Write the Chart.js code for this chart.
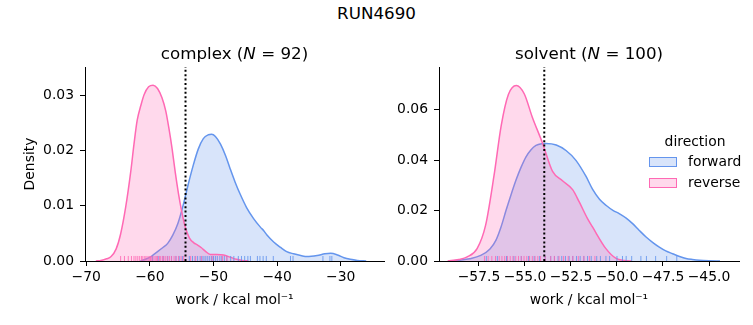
<!DOCTYPE html>
<html>
<head>
<meta charset="utf-8">
<script src="https://cdn.jsdelivr.net/npm/chart.js@4.4.1/dist/chart.umd.min.js"></script>
<style>
  body { margin: 0; background: #fff; font-family: "DejaVu Sans", sans-serif; color: #000; }
  #page { position: relative; width: 753px; height: 325px; overflow: hidden; }
  canvas { position: absolute; top: 0; }
  #suptitle { position: absolute; left: 0; top: 3px; width: 753px; text-align: center; font-size: 16.7px; line-height: 20px; }
  .lg { position: absolute; font-size: 13.9px; line-height: 17px; white-space: nowrap; }
  .patch { position: absolute; width: 28px; height: 10px; box-sizing: border-box; border: 1.5px solid; }
</style>
</head>
<body>
<div id="page">
  <div id="suptitle">RUN4690</div>
  <canvas id="complexChart" width="390" height="325" style="left:0;width:390px;height:325px"></canvas>
  <canvas id="solventChart" width="363" height="325" style="left:390px;width:363px;height:325px"></canvas>
  <div class="lg" style="left:645px;top:133px;width:100px;text-align:center">direction</div>
  <div class="patch" style="left:649px;top:157px;background:rgba(100,149,237,0.25);border-color:#6495ED"></div>
  <div class="lg" style="left:688px;top:153px">forward</div>
  <div class="patch" style="left:649px;top:178px;background:rgba(255,105,180,0.25);border-color:#FF69B4"></div>
  <div class="lg" style="left:688px;top:174px">reverse</div>
</div>
<script>
// complex: density curves
const complexForwardX = [-61.5, -60.5, -59.7, -58.9, -58.0, -57.2, -56.4, -55.6, -54.8, -54.0, -53.2, -52.4, -51.6, -50.8, -50.3, -49.7, -48.9, -48.1, -47.4, -46.6, -45.8, -44.8, -43.7, -42.6, -42.1, -41.6, -40.5, -39.5, -38.5, -37.4, -36.0, -35.3, -33.7, -32.5, -31.6, -30.5, -29.5, -28.5, -27.4, -26.0];
const complexForwardY = [0, 0.0004, 0.0009, 0.0016, 0.0024, 0.0032, 0.0047, 0.0068, 0.0100, 0.0138, 0.0173, 0.0203, 0.0222, 0.0229, 0.0230, 0.0226, 0.0212, 0.0191, 0.0168, 0.0143, 0.0121, 0.0097, 0.0077, 0.0061, 0.0055, 0.0047, 0.0034, 0.0025, 0.0017, 0.0013, 0.0009, 0.0008, 0.0010, 0.0013, 0.0014, 0.0011, 0.0006, 0.0003, 0.0001, 0];
const complexReverseX = [-68.5, -67.7, -66.8, -66.1, -65.3, -64.6, -63.8, -63.0, -62.5, -62.0, -61.4, -60.9, -60.2, -59.5, -58.8, -58.1, -57.5, -57.0, -56.5, -56.0, -55.5, -55.0, -54.5, -53.8, -53.1, -52.5, -51.9, -51.3, -50.5, -49.5, -48.4, -47.4, -46.4, -45.5, -44.5];
const complexReverseY = [0, 0.0001, 0.0004, 0.0008, 0.0022, 0.0049, 0.0098, 0.0163, 0.0212, 0.0255, 0.0283, 0.0302, 0.0316, 0.0319, 0.0313, 0.0296, 0.0272, 0.0240, 0.0203, 0.0160, 0.0122, 0.0090, 0.0064, 0.0042, 0.0033, 0.0029, 0.0024, 0.0018, 0.0012, 0.0012, 0.0011, 0.0007, 0.0003, 0.0001, 0];
const complexForwardRug = [-59.6, -58.7, -57.9, -57.2, -56.6, -55.9, -55.4, -54.9, -53.8, -53.3, -52.9, -52.5, -52.1, -51.8, -51.5, -51.2, -50.9, -50.6, -50.3, -50.0, -49.7, -49.4, -49.0, -48.7, -48.3, -47.9, -47.3, -46.8, -46.1, -45.6, -45.1, -44.6, -44.2, -43.1, -42.7, -42.2, -41.7, -40.6, -37.9, -37.5, -32.8, -31.7, -31.4];
const complexReverseRug = [-64.6, -64.0, -63.4, -62.9, -62.5, -62.2, -61.9, -61.6, -61.3, -61.1, -60.8, -60.6, -60.3, -60.1, -59.9, -59.7, -59.5, -59.2, -59.0, -58.8, -58.5, -58.3, -58.0, -57.8, -57.5, -57.2, -56.9, -56.6, -56.2, -55.9, -55.5, -55.1, -54.7, -53.6, -52.8, -51.9, -50.2, -48.6, -47.9];
const complexMarker = -54.4;
const complexXTicks = [-70, -60, -50, -40, -30];
const complexYTicks = [0, 0.01, 0.02, 0.03];

// solvent
const solventForwardX = [-59.0, -58.6, -58.0, -57.4, -56.9, -56.58, -56.3, -56.03, -55.76, -55.49, -55.22, -54.95, -54.68, -54.4, -54.1, -53.86, -53.3, -52.77, -52.23, -51.68, -51.33, -50.95, -50.6, -50.2, -49.88, -49.5, -49.15, -48.8, -48.42, -48.05, -47.7, -47.35, -46.98, -46.6, -46.25, -45.9, -45.53, -45.0, -44.4];
const solventForwardY = [0, 0.0003, 0.0009, 0.0022, 0.0048, 0.0082, 0.0135, 0.0200, 0.0262, 0.0320, 0.0370, 0.0412, 0.0440, 0.0458, 0.0465, 0.0466, 0.0460, 0.0438, 0.0399, 0.0335, 0.0285, 0.0245, 0.0221, 0.0200, 0.0188, 0.0170, 0.0148, 0.0122, 0.0095, 0.0073, 0.0055, 0.0040, 0.0029, 0.0018, 0.0010, 0.0006, 0.0003, 0.0001, 0];
const solventReverseX = [-59.2, -58.6, -58.14, -57.6, -57.14, -56.68, -56.29, -55.9, -55.47, -55.04, -54.6, -54.05, -53.5, -52.96, -52.41, -52.05, -51.6, -51.33, -50.6, -50.05, -49.6, -49.2];
const solventReverseY = [0, 0.0006, 0.0016, 0.0049, 0.0141, 0.0339, 0.0537, 0.0660, 0.0696, 0.0663, 0.0570, 0.0468, 0.0355, 0.0318, 0.0283, 0.0234, 0.0168, 0.0135, 0.0049, 0.0010, 0.0002, 0];
const solventForwardRug = [-57.1, -56.5, -56.0, -55.6, -55.2, -54.8, -54.5, -54.2, -53.9, -53.6, -53.4, -53.2, -53.0, -52.8, -52.6, -52.4, -52.2, -52.0, -51.8, -51.6, -51.4, -51.1, -50.9, -50.6, -50.4, -50.0, -49.7, -49.5, -49.2, -48.7, -48.4, -47.9, -47.3, -46.75];
const solventReverseRug = [-57.2, -57.0, -56.8, -56.6, -56.4, -56.25, -56.1, -55.95, -55.8, -55.65, -55.5, -55.35, -55.2, -55.05, -54.9, -54.75, -54.6, -54.45, -54.3, -54.15, -53.9, -53.6, -53.4, -53.15, -52.9, -52.65, -52.4, -52.1, -51.8, -51.5, -51.2];
const solventMarker = -53.95;
const solventXTicks = [-57.5, -55, -52.5, -50, -47.5, -45];
const solventYTicks = [0, 0.02, 0.04, 0.06];

const BLUE = '#6495ED', PINK = '#FF69B4';
const FONT = 'DejaVu Sans';

const fmt = (v, d) => (v < 0 ? '\u2212' : '') + Math.abs(v).toFixed(d);
const pts = (xs, ys) => xs.map((x, i) => ({ x: x, y: ys[i] }));

const subTitle = {
    id: 'subTitle',
    afterDraw(chart, args, opts) {
        const { ctx, chartArea } = chart;
        ctx.save();
        ctx.fillStyle = '#000';
        ctx.textBaseline = 'alphabetic';
        let total = 0;
        const widths = opts.parts.map(p => {
            ctx.font = p[1] + ' 16.7px "' + FONT + '"';
            const w = ctx.measureText(p[0]).width;
            total += w;
            return w;
        });
        let x = (chartArea.left + chartArea.right) / 2 - total / 2;
        opts.parts.forEach((p, i) => {
            ctx.font = p[1] + ' 16.7px "' + FONT + '"';
            ctx.fillText(p[0], x, chartArea.top - 8);
            x += widths[i];
        });
        ctx.restore();
    }
};

function makeChart(id, cfg) {
    const ymax = cfg.ymax;
    const rugY = ymax * 0.0125;
    return new Chart(document.getElementById(id), {
        type: 'line',
        data: {
            datasets: [
                {
                    data: [{ x: cfg.marker, y: 0 }, { x: cfg.marker, y: ymax }],
                    borderColor: '#000', borderWidth: 2, borderDash: [2, 2.4],
                    pointRadius: 0, fill: false
                },
                {
                    type: 'scatter', data: cfg.revRug.map(x => ({ x: x, y: rugY })),
                    pointStyle: 'line', rotation: 90, pointRadius: 2.6, pointBorderWidth: 1,
                    pointBorderColor: 'rgba(255,105,180,0.85)', showLine: false
                },
                {
                    type: 'scatter', data: cfg.fwdRug.map(x => ({ x: x, y: rugY })),
                    pointStyle: 'line', rotation: 90, pointRadius: 2.6, pointBorderWidth: 1,
                    pointBorderColor: 'rgba(100,149,237,0.85)', showLine: false
                },
                {
                    label: 'reverse', data: pts(cfg.revX, cfg.revY),
                    borderColor: PINK, backgroundColor: 'rgba(255,105,180,0.25)', borderWidth: 1.5,
                    fill: 'origin', pointRadius: 0, cubicInterpolationMode: 'monotone'
                },
                {
                    label: 'forward', data: pts(cfg.fwdX, cfg.fwdY),
                    borderColor: BLUE, backgroundColor: 'rgba(100,149,237,0.25)', borderWidth: 1.5,
                    fill: 'origin', pointRadius: 0, cubicInterpolationMode: 'monotone'
                }
            ]
        },
        options: {
            responsive: false,
            animation: false,
            devicePixelRatio: 1,
            layout: { padding: { left: 0, top: 67, right: cfg.padRight, bottom: 0 } },
            plugins: {
                legend: { display: false },
                tooltip: { enabled: false },
                subTitle: { parts: cfg.title }
            },
            scales: {
                x: {
                    type: 'linear', min: cfg.xmin, max: cfg.xmax,
                    afterBuildTicks: s => { s.ticks = cfg.xTicks.map(v => ({ value: v })); },
                    afterFit: s => { s.height = 64; },
                    grid: { drawOnChartArea: false, drawTicks: true, tickLength: 5, color: '#000' },
                    border: { display: true, color: '#000', width: 1 },
                    ticks: {
                        color: '#000', padding: 3, maxRotation: 0, autoSkip: false,
                        font: { family: FONT, size: 13.9 },
                        callback: v => fmt(v, cfg.xDec)
                    },
                    title: {
                        display: true, text: 'work / kcal mol\u207B\u00B9', color: '#000',
                        font: { family: FONT, size: 13.9 }, padding: { top: 0, bottom: 16.5 }
                    }
                },
                y: {
                    type: 'linear', min: 0, max: ymax,
                    afterBuildTicks: s => { s.ticks = cfg.yTicks.map(v => ({ value: v })); },
                    afterFit: s => { s.width = cfg.yWidth; },
                    grid: { drawOnChartArea: false, drawTicks: true, tickLength: 5, color: '#000' },
                    border: { display: true, color: '#000', width: 1 },
                    ticks: {
                        color: '#000', padding: 6,
                        font: { family: FONT, size: 13.9 },
                        callback: v => fmt(v, 2)
                    },
                    title: {
                        display: cfg.yTitle, text: 'Density', color: '#000',
                        font: { family: FONT, size: 13.9 }, padding: { top: 22.5, bottom: 0 }
                    }
                }
            }
        },
        plugins: [subTitle]
    });
}

makeChart('complexChart', {
    ymax: 0.0352, xmin: -70.2, xmax: -23.2, xDec: 0, yWidth: 85, padRight: 6, yTitle: true,
    marker: complexMarker, xTicks: complexXTicks, yTicks: complexYTicks,
    fwdX: complexForwardX, fwdY: complexForwardY, revX: complexReverseX, revY: complexReverseY,
    fwdRug: complexForwardRug, revRug: complexReverseRug,
    title: [['complex (', 'normal'], ['N', 'italic'], [' = 92)', 'normal']]
});

makeChart('solventChart', {
    ymax: 0.0769, xmin: -59.67, xmax: -43.37, xDec: 1, yWidth: 49, padRight: 14, yTitle: false,
    marker: solventMarker, xTicks: solventXTicks, yTicks: solventYTicks,
    fwdX: solventForwardX, fwdY: solventForwardY, revX: solventReverseX, revY: solventReverseY,
    fwdRug: solventForwardRug, revRug: solventReverseRug,
    title: [['solvent (', 'normal'], ['N', 'italic'], [' = 100)', 'normal']]
});
</script>
</body>
</html>
